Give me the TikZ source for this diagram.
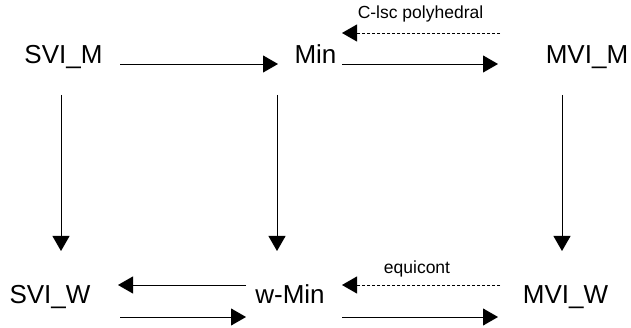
\documentclass[tikz,border=0pt]{standalone}
\usepackage{fontspec}
\setmainfont{Liberation Sans}
\usetikzlibrary{arrows.meta}
\begin{document}
\begin{tikzpicture}[x=1pt,y=-1pt,
  term/.style={anchor=base,inner sep=0pt,font=\fontsize{26}{26}\selectfont},
  tag/.style={anchor=base,inner sep=0pt,font=\fontsize{17.5}{17.5}\selectfont},
  imp/.style={line width=0.9pt,-{Triangle[length=15pt,width=17pt]}},
  cond/.style={imp,dash pattern=on 3pt off 2pt}]
\useasboundingbox (0,0) rectangle (631,328);
% spaces
\node[term] (svim) at (63.5,64) {SVI\_M};
\node[term] (min)  at (315.5,64) {Min};
\node[term] (mvim) at (587,64) {MVI\_M};
\node[term] (sviw) at (50,303) {SVI\_W};
\node[term] (wmin) at (290,303) {w-Min};
\node[term] (mviw) at (565.5,303) {MVI\_W};
% edge labels
\node[tag] (lsc) at (420.5,19) {C-lsc polyhedral};
\node[tag] (eqc) at (417,273) {equicont};
% arrow end points
\coordinate (a1) at (120,64);  \coordinate (a2) at (278,64);
\coordinate (b1) at (342,64);  \coordinate (b2) at (498,64);
\coordinate (c1) at (500,33);  \coordinate (c2) at (342,33);
\coordinate (d1) at (61,95);   \coordinate (d2) at (61,251);
\coordinate (e1) at (277,95);  \coordinate (e2) at (277,251);
\coordinate (f1) at (562,95);  \coordinate (f2) at (562,251);
\coordinate (g1) at (246,285); \coordinate (g2) at (118,285);
\coordinate (h1) at (120,317); \coordinate (h2) at (246,317);
\coordinate (i1) at (500,285); \coordinate (i2) at (342,285);
\coordinate (j1) at (342,317); \coordinate (j2) at (498,317);
% implications
\draw[imp] (a1) -- (a2);
\draw[imp] (b1) -- (b2);
\draw[cond] (c1) -- (c2);
\draw[imp] (d1) -- (d2);
\draw[imp] (e1) -- (e2);
\draw[imp] (f1) -- (f2);
\draw[imp] (g1) -- (g2);
\draw[imp] (h1) -- (h2);
\draw[cond] (i1) -- (i2);
\draw[imp] (j1) -- (j2);
\end{tikzpicture}
\end{document}
